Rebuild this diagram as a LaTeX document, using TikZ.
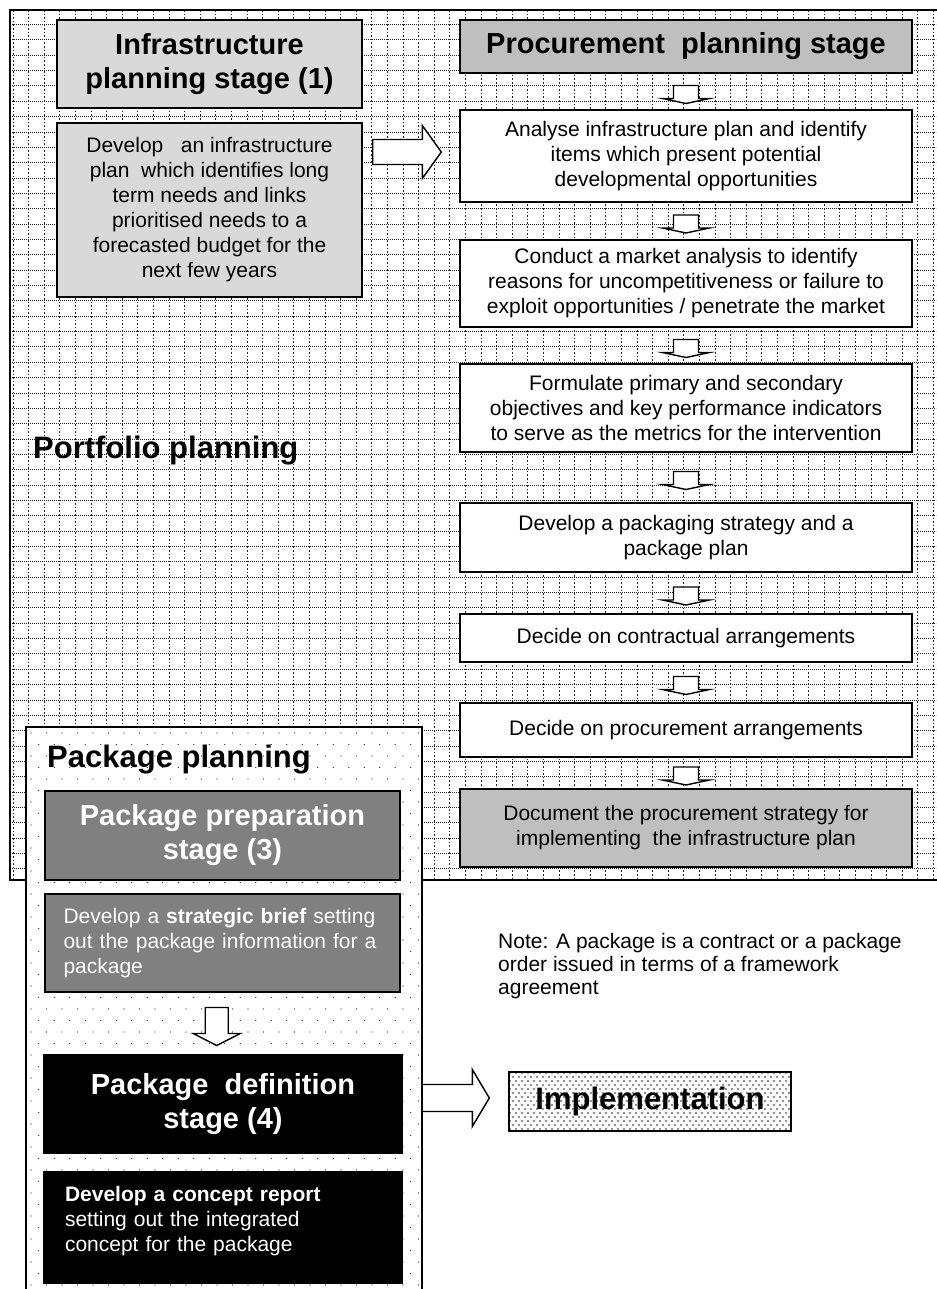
\documentclass[tikz,border=0pt]{standalone}
\usepackage{fontspec}
\setmainfont{Liberation Sans}
\usetikzlibrary{calc}
\definecolor{lightg}{gray}{0.85}
\definecolor{midg}{gray}{0.75}
\definecolor{darkg}{gray}{0.5}
% block arrow pointing down between two nodes: upper, lower, shaft half, head half, shaft len, head len, xshift
\newcommand\blockdown[7]{%
 \coordinate (bc) at ($(#1.south)!0.5!(#2.north)+(#7,3)$);
 \draw[arrowbox] ($(bc)+(-#3,{-(#5+#6)/2})$) -- ($(bc)+(#3,{-(#5+#6)/2})$)
   -- ($(bc)+(#3,{(#5-#6)/2})$) -- ($(bc)+(#4,{(#5-#6)/2})$) -- ($(bc)+(0,{(#5+#6)/2})$)
   -- ($(bc)+(-#4,{(#5-#6)/2})$) -- ($(bc)+(-#3,{(#5-#6)/2})$) -- cycle;}
% block arrow pointing right: start, tip, shaft half, head half, head len
\newcommand\blockright[5]{%
 \coordinate (bs) at (#1); \coordinate (bt) at (#2);
 \coordinate (bh) at ($(bt)+(-#5,0)$);
 \draw[arrowbox] ($(bs)+(0,-#3)$) -- ($(bh)+(0,-#3)$) -- ($(bh)+(0,-#4)$) -- (bt)
   -- ($(bh)+(0,#4)$) -- ($(bh)+(0,#3)$) -- ($(bs)+(0,#3)$) -- cycle;}
\tikzset{
 box/.style={draw=black, line width=1.4pt, inner sep=0pt, align=center,
   font=\fontsize{21}{25}\selectfont},
 headbox/.style={box, font=\fontsize{29}{34}\selectfont\bfseries},
 arrowbox/.style={draw=black, line width=1.4pt, fill=white, line join=miter},
 gridh/.style={line width=0.8pt, dash pattern=on 0.8pt off 1.2pt, black!85},
 gridv/.style={line width=0.8pt, dash pattern=on 1.6pt off 2pt, black!85},
 bigtitle/.style={inner sep=0pt, font=\fontsize{31}{36}\selectfont\bfseries},
 pbox/.style={box, minimum width=452pt},
}
\begin{document}
\begin{tikzpicture}[x=1pt,y=-1pt]
\useasboundingbox (0,0) rectangle (936,1289);
\fill[white] (0,0) rectangle (936,1289);

% ---------- portfolio frame with grid ----------
\node[fill=white, inner sep=0pt, minimum width=930pt, minimum height=870pt] (pf) at (475,445) {};
\begin{scope}
\clip (11,11) rectangle (936,879);
\foreach \k in {0,...,56} \draw[gridh] (10,{24.5+15.35*\k}) -- (936,{24.5+15.35*\k});
\foreach \k in {0,...,59} \draw[gridv] ({13+15.6*\k},10) -- ({13+15.6*\k},880);
\end{scope}
\draw[line width=2pt] (pf.north east) -- (pf.north west) -- (pf.south west) -- (pf.south east);

\node[bigtitle, anchor=base west] (portlabel) at (33,458) {Portfolio planning};

% infrastructure stage
\node[headbox, fill=lightg, minimum width=305pt, minimum height=88pt] (infra) at (209.5,64)
  {Infrastructure\\planning stage (1)};
\node[box, fill=lightg, minimum width=305pt, minimum height=174pt] (dev) at (209.5,210)
  {Develop\ \ \ an infrastructure\\plan\ \ which identifies long\\term needs and links\\prioritised needs to a\\forecasted budget for the\\next few years};

% procurement stage
\node[headbox, fill=midg, minimum width=452pt, minimum height=53pt] (proc) at (686,46.5)
  {Procurement\ \ planning stage};
\node[pbox, fill=white, minimum height=92pt] (a1) at (686,156)
  {Analyse infrastructure plan and identify\\items which present potential\\developmental opportunities};
\node[pbox, fill=white, minimum height=87pt] (a2) at (686,283.5)
  {Conduct a market analysis to identify\\reasons for uncompetitiveness or failure to\\exploit opportunities / penetrate the market};
\node[pbox, fill=white, minimum height=88pt] (a3) at (686,408)
  {Formulate primary and secondary\\objectives and key performance indicators\\to serve as the metrics for the intervention};
\node[pbox, fill=white, minimum height=69pt] (a4) at (686,537.5)
  {Develop a packaging strategy and a\\package plan};
\node[pbox, fill=white, minimum height=48pt] (a5) at (686,638)
  {Decide on contractual arrangements};
\node[pbox, fill=white, minimum height=54pt] (a6) at (686,730)
  {Decide on procurement arrangements};
\node[pbox, fill=midg, minimum height=78pt] (a7) at (686,828)
  {Document the procurement strategy for\\implementing\ \ the infrastructure plan};

\blockdown{proc}{a1}{12.5}{23.5}{13}{5}{0}
\blockdown{a1}{a2}{12.5}{23.5}{13}{5}{0}
\blockdown{a2}{a3}{12.5}{23.5}{13}{5}{0}
\blockdown{a3}{a4}{12.5}{23.5}{13}{5}{0}
\blockdown{a4}{a5}{12.5}{23.5}{13}{5}{0}
\blockdown{a5}{a6}{12.5}{23.5}{13}{5}{0}
\blockdown{a6}{a7}{12.5}{23.5}{13}{5}{0}

\blockright{$(dev.east |- a1.west)+(10,-4)$}{$(a1.west)+(-18,-4)$}{12.5}{26.5}{19}

% ---------- package planning frame ----------
\node[fill=white, inner sep=0pt, minimum width=396pt, minimum height=580pt] (pkg) at (224,1017) {};
\begin{scope}
\clip (27,728) rectangle (421,1289);
\foreach \r in {0,...,48} {
  \pgfmathsetmacro\yy{733+11.5*\r}
  \pgfmathsetmacro\xo{31+7.75*mod(\r,2)}
  \foreach \c in {0,...,25} \fill[black!85] ({\xo+15.5*\c},\yy) circle (0.7pt);
}
\end{scope}
\draw[line width=2pt] (pkg.south west) -- (pkg.north west) -- (pkg.north east) -- (pkg.south east);

\node[bigtitle, anchor=base west] (pkglabel) at (47,767) {Package planning};

\node[headbox, fill=darkg, text=white, minimum width=355pt, minimum height=89pt] (pprep) at (222.5,835.5)
  {Package preparation\\stage (3)};
\node[box, fill=darkg, text=white, minimum width=355pt, minimum height=98pt, text width=318pt, align=left] (sbrief) at (222.5,943)
  {Develop a \textbf{strategic brief} setting\\out the package information for a\\package};
\node[headbox, fill=black, text=white, minimum width=358pt, minimum height=98pt] (pdef) at (223,1104)
  {Package\ \ definition\\stage (4)};
\node[box, fill=black, text=white, minimum width=358pt, minimum height=111pt, text width=316pt, align=left] (concept) at (223,1227.5)
  {\textbf{Develop a concept report}\\setting out the integrated\\concept for the package\\[-7pt]\mbox{}};

\blockdown{sbrief}{pdef}{11.5}{23.5}{26}{12}{-6}

% ---------- implementation ----------
\fill[white] (509,1072) rectangle (791,1131);
\begin{scope}
\clip (509,1072) rectangle (791,1131);
\foreach \r in {0,...,15} {
  \pgfmathsetmacro\yy{1073+4*\r}
  \pgfmathsetmacro\xo{510+3*mod(\r,2)}
  \foreach \c in {0,...,47} \fill[black!85] ({\xo+6*\c},\yy) circle (0.8pt);
}
\end{scope}
\node[draw=black, line width=1.4pt, inner sep=0pt, minimum width=282pt, minimum height=59pt,
  font=\fontsize{31}{36}\selectfont\bfseries] (impl) at (650,1101.5) {Implementation};

\blockright{$(pkg.east |- impl.west)+(0,-3.5)$}{$(impl.west)+(-19,-3.5)$}{13.5}{28.5}{17}

\node[anchor=north west, inner sep=0pt, align=left, font=\fontsize{21}{23}\selectfont] (note) at (498,933)
  {Note: A package is a contract or a package\\order issued in terms of a framework\\agreement};
\end{tikzpicture}
\end{document}
